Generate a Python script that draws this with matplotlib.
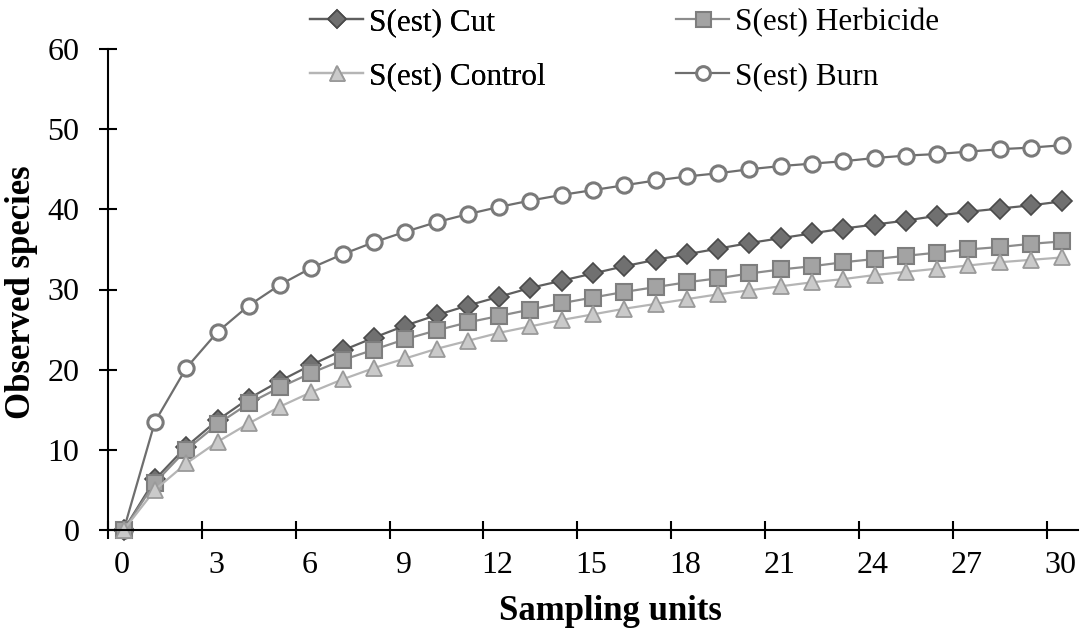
import numpy as np
import matplotlib.pyplot as plt

# Дані (зчитані з рисунку)
units = np.arange(0, 31)
s_cut = [0, 6.3, 10.4, 13.7, 16.4, 18.6, 20.6, 22.4, 24.0, 25.5, 26.8, 28.0, 29.1,
         30.2, 31.1, 32.0, 32.9, 33.7, 34.4, 35.1, 35.8, 36.4, 37.0, 37.6, 38.1,
         38.6, 39.2, 39.7, 40.1, 40.5, 41.0]
s_herbicide = [0, 5.9, 10.0, 13.2, 15.8, 17.8, 19.6, 21.2, 22.5, 23.8, 24.9, 25.9,
               26.7, 27.5, 28.3, 29.0, 29.7, 30.3, 30.9, 31.4, 32.0, 32.5, 32.9,
               33.4, 33.8, 34.2, 34.6, 35.0, 35.3, 35.7, 36.0]
s_control = [0, 5.0, 8.3, 11.0, 13.3, 15.4, 17.2, 18.8, 20.2, 21.4, 22.6, 23.6,
             24.6, 25.4, 26.2, 26.9, 27.6, 28.2, 28.8, 29.4, 29.9, 30.4, 30.9,
             31.3, 31.8, 32.2, 32.6, 33.0, 33.4, 33.7, 34.0]
s_burn = [0, 13.5, 20.2, 24.7, 28.0, 30.6, 32.7, 34.4, 35.9, 37.2, 38.4, 39.4,
          40.3, 41.1, 41.8, 42.4, 43.0, 43.6, 44.1, 44.5, 45.0, 45.4, 45.7, 46.0,
          46.4, 46.7, 46.9, 47.2, 47.5, 47.7, 48.0]
tick_labels = [str(v) for v in range(0, 31, 3)]

plt.rcParams['font.family'] = ['Liberation Serif', 'DejaVu Serif']

fig = plt.figure(figsize=(10.83, 6.31), dpi=100)
ax = fig.add_axes([108 / 1083, 101 / 631, 970 / 1083, 481 / 631])

# категорії по центру (як у лінійній діаграмі Excel)
xc = units + 0.5

l_burn, = ax.plot(xc, s_burn, color='#6e6e6e', lw=1.6, marker='o', ms=11,
                  mfc='white', mec='#7a7a7a', mew=2.2, label='S(est) Burn')
l_cut, = ax.plot(xc, s_cut, color='#5f5f5f', lw=1.6, marker='D', ms=10,
                 mfc='#707070', mec='#4a4a4a', mew=1.2, label='S(est) Cut')
l_herb, = ax.plot(xc, s_herbicide, color='#8c8c8c', lw=1.6, marker='s', ms=12,
                  mfc='#a3a3a3', mec='#7e7e7e', mew=1.5, label='S(est) Herbicide')
l_ctrl, = ax.plot(xc, s_control, color='#b5b5b5', lw=1.6, marker='^', ms=12,
                  mfc='#cacaca', mec='#9a9a9a', mew=1.3, label='S(est) Control')

ax.set_xlim(0, 31)
ax.set_ylim(0, 60)
ax.set_yticks(range(0, 61, 10))
ax.set_xticks(range(0, 31, 3))
ax.set_xticklabels([])
ax.set_xticks(np.arange(0, 31, 3) + 0.45, minor=True)
ax.set_xticklabels(tick_labels, minor=True)
ax.tick_params(axis='both', which='major', direction='inout', length=13,
               width=1.5, labelsize=23)
ax.tick_params(axis='x', which='minor', length=0, pad=15, labelsize=23)
ax.tick_params(axis='y', pad=14)

for s in ['top', 'right']:
    ax.spines[s].set_visible(False)
for s in ['left', 'bottom']:
    ax.spines[s].set_linewidth(1.5)
for ln in ax.lines:
    ln.set_clip_on(False)

ax.set_xlabel('Sampling units', fontsize=25, fontweight='bold')
ax.xaxis.set_label_coords(0.5175, -0.135)
ax.set_ylabel('Observed species', fontsize=25, fontweight='bold')
ax.yaxis.set_label_coords(-0.072, 0.495)

leg_kw = dict(frameon=False, loc='upper left', fontsize=22.5, handlelength=1.7,
              handletextpad=0.2, labelspacing=0.8, markerscale=0.9,
              borderaxespad=0, borderpad=0)
leg1 = fig.legend(handles=[l_cut, l_ctrl], bbox_to_anchor=(310 / 1083, 1 - 8 / 631),
                  **leg_kw)
fig.add_artist(leg1)
fig.legend(handles=[l_herb, l_burn], bbox_to_anchor=(676 / 1083, 1 - 8 / 631),
           **leg_kw)

fig.savefig('out.png', dpi=100)
